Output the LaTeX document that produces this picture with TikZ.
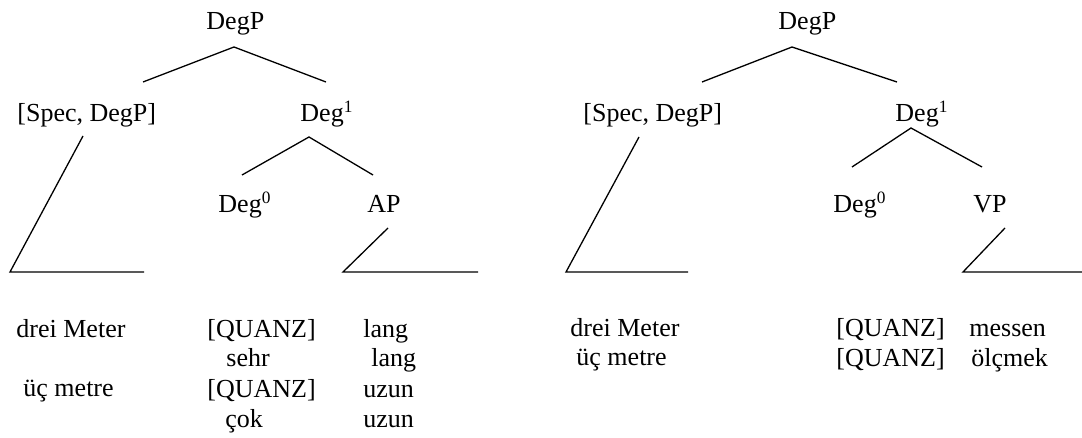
\documentclass[tikz,border=0pt]{standalone}
\usepackage{fontspec}
\setmainfont{Liberation Serif}
\newcommand{\supnum}[1]{\raisebox{4.3pt}{\fontsize{8}{8}\selectfont #1}}
\begin{document}
\begin{tikzpicture}[x=0.4615pt,y=-0.4615pt,
  lbl/.style={inner sep=0pt, anchor=base west, font=\fontsize{12}{14}\selectfont},
  edge/.style={line width=0.6pt, line cap=butt, line join=miter}]
\useasboundingbox (0,0) rectangle (1082,438);
% ---------- left tree ----------
\node[lbl] (Ltop) at (206,30) {DegP};
\node[lbl] (Lspec) at (17,122) {[Spec, DegP]};
\node[lbl] (Ldeg1) at (300,122) {Deg\supnum{1}};
\node[lbl] (Ldeg0) at (218,213) {Deg\supnum{0}};
\node[lbl] (Lap) at (367,213) {AP};
\coordinate (La) at (234,47);
\coordinate (Lal) at (143,82);
\coordinate (Lar) at (326,82);
\coordinate (Lb) at (309,137);
\coordinate (Lbl) at (242,175);
\coordinate (Lbr) at (373,175);
\coordinate (Ls) at (83,136);
\coordinate (Lsb) at (10,272);
\coordinate (Lse) at (144,272);
\coordinate (Lp) at (388,228);
\coordinate (Lpb) at (343,272);
\coordinate (Lpe) at (478,272);
\draw[edge] (Lal) -- (La) -- (Lar);
\draw[edge] (Lbl) -- (Lb) -- (Lbr);
\draw[edge] (Ls) -- (Lsb) -- (Lse);
\draw[edge] (Lp) -- (Lpb) -- (Lpe);
\node[lbl] (Lt1) at (16,338) {drei Meter};
\node[lbl] (Lt2) at (23,397) {üç metre};
\node[lbl] (Lq1) at (207,338) {[QUANZ]};
\node[lbl] (Lq2) at (226,367) {sehr};
\node[lbl] (Lq3) at (207,398) {[QUANZ]};
\node[lbl] (Lq4) at (225,428) {çok};
\node[lbl] (La1) at (363,338) {lang};
\node[lbl] (La2) at (371,367) {lang};
\node[lbl] (La3) at (363,398) {uzun};
\node[lbl] (La4) at (363,428) {uzun};
% ---------- right tree ----------
\node[lbl] (Rtop) at (778,30) {DegP};
\node[lbl] (Rspec) at (583,122) {[Spec, DegP]};
\node[lbl] (Rdeg1) at (895,122) {Deg\supnum{1}};
\node[lbl] (Rdeg0) at (833,213) {Deg\supnum{0}};
\node[lbl] (Rvp) at (973,213) {VP};
\coordinate (Ra) at (792,47);
\coordinate (Ral) at (702,82);
\coordinate (Rar) at (897,82);
\coordinate (Rb) at (911,128);
\coordinate (Rbl) at (852,167);
\coordinate (Rbr) at (982,167);
\coordinate (Rs) at (639,137);
\coordinate (Rsb) at (566,272);
\coordinate (Rse) at (688,272);
\coordinate (Rp) at (1005,228);
\coordinate (Rpb) at (963,272);
\coordinate (Rpe) at (1082,272);
\draw[edge] (Ral) -- (Ra) -- (Rar);
\draw[edge] (Rbl) -- (Rb) -- (Rbr);
\draw[edge] (Rs) -- (Rsb) -- (Rse);
\draw[edge] (Rp) -- (Rpb) -- (Rpe);
\node[lbl] (Rt1) at (570,337) {drei Meter};
\node[lbl] (Rt2) at (576,366) {üç metre};
\node[lbl] (Rq1) at (836,337) {[QUANZ]};
\node[lbl] (Rq2) at (836,367) {[QUANZ]};
\node[lbl] (Rm1) at (969,337) {messen};
\node[lbl] (Rm2) at (971,367) {ölçmek};
\end{tikzpicture}
\end{document}
